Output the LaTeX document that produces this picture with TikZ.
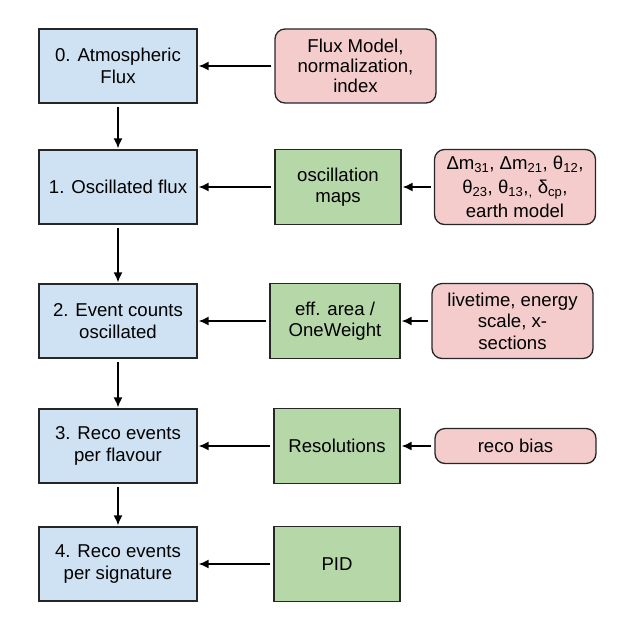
\documentclass[tikz,border=0pt]{standalone}
\usepackage{fontspec}
\setmainfont{Liberation Sans}
\usepackage{tikz}
\usetikzlibrary{arrows.meta}
\definecolor{stageblue}{HTML}{CFE2F3}
\definecolor{toolgreen}{HTML}{B6D7A8}
\definecolor{parampink}{HTML}{F4CCCC}

\begin{document}
\begin{tikzpicture}
  [x=1pt,y=-1pt,every node/.style={draw=black!85,line width=1.3pt,align=center,
   inner sep=0pt,font=\fontsize{18.6}{21.5}\selectfont}]

  \tikzstyle{stage} = [fill=stageblue, minimum width=158pt, minimum height=74pt]
  \tikzstyle{tool}  = [fill=toolgreen, minimum width=126pt, minimum height=75pt]
  \tikzstyle{param} = [fill=parampink, rounded corners=10pt, minimum width=161pt, minimum height=75pt]

  \useasboundingbox (0,0) rectangle (634,630);

  \node[stage] (b0) at (118,66)  {0. Atmospheric\\Flux};
  \node[stage] (b1) at (118,187) {1. Oscillated flux};
  \node[stage] (b2) at (118,321) {2. Event counts\\oscillated};
  \node[stage] (b3) at (118,446) {3. Reco events\\per flavour};
  \node[stage] (b4) at (118,564) {4. Reco events\\per signature};

  \node[tool] (g1) at (338,187) {oscillation\\maps};
  \node[tool,minimum width=130pt] (g2) at (335,321) {eff. area /\\OneWeight};
  \node[tool] (g3) at (337,446) {Resolutions};
  \node[tool] (g4) at (337,564) {PID};

  \node[param,minimum height=74pt,font=\fontsize{18.6}{20}\selectfont] (p0) at (355.5,66)
    {Flux Model,\\normalization,\\index};
  \node[param,font=\fontsize{18.6}{24}\selectfont] (p1) at (515,187)
    {Δm\textsubscript{31}, Δm\textsubscript{21}, θ\textsubscript{12},\\
     θ\textsubscript{23}, θ\textsubscript{13},\textsubscript{,} δ\textsubscript{cp},\\
     earth model};
  \node[param] (p2) at (512.5,321) {livetime, energy\\scale, x-\\sections};
  \node[param,minimum height=35pt] (p3) at (515.5,446) {reco bias};

  \path[->, >={Latex[length=10pt,width=9pt]}, line width=1.6pt, shorten < = 3pt, shorten > = 1pt]
        (b0) edge (b1)
        (b1) edge (b2)
        (b2) edge (b3)
        (b3) edge (b4)
        (p0) edge (b0)
        (g1) edge (b1)
        (p1) edge (g1)
        (g2) edge (b2)
        (p2) edge (g2)
        (g3) edge (b3)
        (p3) edge (g3)
        (g4) edge (b4);
\end{tikzpicture}
\end{document}
